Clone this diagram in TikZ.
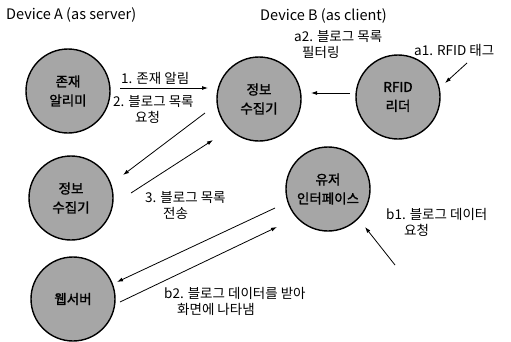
\documentclass[tikz,border=0pt]{standalone}
\usepackage{fontspec}
\setmainfont{Noto Sans CJK KR}[AutoFakeBold=1.5]
\usetikzlibrary{arrows.meta}

\begin{document}
\begin{tikzpicture}[x=1pt,y=-1pt,
    module/.style={circle,draw=black,line width=1.4pt,fill=black!35,
        minimum size=84pt,inner sep=0pt,align=center,
        font=\fontsize{13.5}{19}\selectfont\bfseries},
    msg/.style={-{Latex[length=6pt,width=4pt]},line width=0.8pt},
    lbl/.style={align=left,inner sep=0pt,anchor=west,
        font=\fontsize{13.5}{16}\selectfont},
    title/.style={inner sep=0pt,anchor=west,
        font=\fontsize{14.5}{16}\selectfont}]
                {
    \useasboundingbox (0,0) rectangle (511,341);

    \node[title] (titleA) at (6,15) {Device A (as server)};
    \node[title] (titleB) at (260,16) {Device B (as client)};

    \node[module] (alimi) at (68,91) {존재\\알리미};
    \node[module] (collectA) at (71,198) {정보\\수집기};
    \node[module] (webserver) at (73,299) {웹서버};
    \node[module] (collectB) at (259,99) {정보\\수집기};
    \node[module] (reader) at (398,97) {RFID\\리더};
    \node[module] (ui) at (328,189) {유저\\인터페이스};

    \coordinate (m1s) at (120,88);   \coordinate (m1e) at (208,88);
    \coordinate (m2s) at (205,113);  \coordinate (m2e) at (123,175);
    \coordinate (m3s) at (131,193);  \coordinate (m3e) at (213,140);
    \coordinate (a2s) at (350,93);   \coordinate (a2e) at (311,93);
    \coordinate (a1s) at (467,63);   \coordinate (a1e) at (445,83);
    \coordinate (b1s) at (395,265);  \coordinate (b1e) at (365,227);
    \coordinate (b2s) at (275,208);  \coordinate (b2e) at (117,282);
    \coordinate (b3s) at (120,302);  \coordinate (b3e) at (277,227);

    \draw[msg] (m1s) -- (m1e);
    \draw[msg] (m2s) -- (m2e);
    \draw[msg] (m3s) -- (m3e);
    \draw[msg] (a2s) -- (a2e);
    \draw[msg] (a1s) -- (a1e);
    \draw[msg] (b1s) -- (b1e);
    \draw[msg] (b2s) -- (b2e);
    \draw[msg] (b3s) -- (b3e);

    \node[lbl] (m1) at (121,78) {1. 존재 알림};
    \node[lbl] (m2) at (113,110) {2. 블로그 목록\\\hspace*{22pt}요청};
    \node[lbl] (m3) at (145,206) {3. 블로그 목록\\\hspace*{18pt}전송};
    \node[lbl] (a2) at (294,45) {a2. 블로그 목록\\\hspace*{8pt}필터링};
    \node[lbl] (a1) at (414,50) {a1. RFID 태그};
    \node[lbl] (b1) at (386,222) {b1. 블로그 데이터\\\hspace*{18pt}요청};
    \node[lbl] (b2) at (164,301) {b2. 블로그 데이터를 받아\\\hspace*{13pt}화면에 나타냄};
}
\end{tikzpicture}
\end{document}
